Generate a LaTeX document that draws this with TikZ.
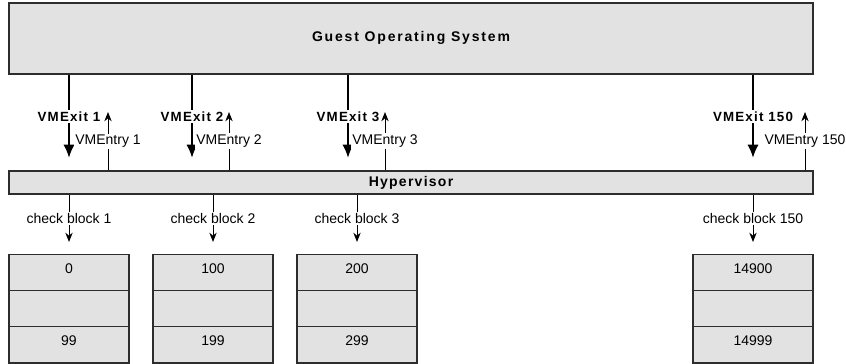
\documentclass[tikz,border=0pt]{standalone}
\usepackage{fontspec}
\setmainfont{Liberation Sans}
\newfontfamily\spacedsans[LetterSpace=9]{Liberation Sans}
\newfontfamily\widesans[LetterSpace=13]{Liberation Sans}
\usetikzlibrary{arrows.meta}
\definecolor{boxgray}{RGB}{226,226,226}
\definecolor{linegray}{RGB}{45,45,45}
\tikzset{>=latex}
\tikzset{
  layerbox/.style={draw=linegray, line width=1pt, fill=boxgray, inner sep=0pt,
    font=\spacedsans\bfseries\fontsize{10.5}{12}\selectfont},
  cellbox/.style={draw=linegray, line width=0.8pt, fill=boxgray, inner sep=0pt,
    minimum width=90pt, minimum height=27.25pt, text depth=6pt,
    font=\fontsize{10.5}{12}\selectfont},
  exitarrow/.style={line width=1.6pt, -{Latex[length=10pt,width=8.5pt]}},
  thinarrow/.style={line width=0.7pt, -{Stealth[length=7pt,width=5.5pt]}},
  exitlabel/.style={fill=white, inner sep=1pt,
    font=\spacedsans\bfseries\fontsize{10}{12}\selectfont},
  plainlabel/.style={fill=white, inner sep=1pt, font=\fontsize{10.5}{12}\selectfont}
}

\begin{document}
\begin{tikzpicture}[x=0.75pt, y=-0.75pt]
    \useasboundingbox (0,0) rectangle (846,364);

    \node [layerbox, minimum width=603pt, minimum height=53.25pt,
    text depth=3pt, font=\widesans\bfseries\fontsize{10.5}{12}\selectfont]
    (guest) at (411,38.5) {Guest Operating System};

    \node [layerbox, minimum width=603pt, minimum height=17.25pt]
    (hyper) at (411,182.5) {Hypervisor};

    % memory blocks
    \node [cellbox] (b1top) at (69,272.2) {0};
    \node [cellbox] (b1mid) at (69,308.5) {};
    \node [cellbox] (b1bot) at (69,344.8) {99};

    \node [cellbox] (b2top) at (213,272.2) {100};
    \node [cellbox] (b2mid) at (213,308.5) {};
    \node [cellbox] (b2bot) at (213,344.8) {199};

    \node [cellbox] (b3top) at (357,272.2) {200};
    \node [cellbox] (b3mid) at (357,308.5) {};
    \node [cellbox] (b3bot) at (357,344.8) {299};

    \node [cellbox] (b150top) at (753,272.2) {14900};
    \node [cellbox] (b150mid) at (753,308.5) {};
    \node [cellbox] (b150bot) at (753,344.8) {14999};

    % exits
    \coordinate (x1) at (69,158);
    \coordinate (x2) at (192,158);
    \coordinate (x3) at (348,158);
    \coordinate (x150) at (753,158);

    \draw [exitarrow] (guest.south -| x1) -- node [exitlabel] {VMExit 1} (x1);
    \draw [exitarrow] (guest.south -| x2) -- node [exitlabel] {VMExit 2} (x2);
    \draw [exitarrow] (guest.south -| x3) -- node [exitlabel] {VMExit 3} (x3);
    \draw [exitarrow] (guest.south -| x150) -- node [exitlabel] {VMExit 150} (x150);

    % entries
    \coordinate (e1) at (108,112);
    \coordinate (e2) at (229,112);
    \coordinate (e3) at (385,112);
    \coordinate (e150) at (805,112);

    \draw [thinarrow] (hyper.north -| e1) -- node [plainlabel] {VMEntry 1} (e1);
    \draw [thinarrow] (hyper.north -| e2) -- node [plainlabel] {VMEntry 2} (e2);
    \draw [thinarrow] (hyper.north -| e3) -- node [plainlabel] {VMEntry 3} (e3);
    \draw [thinarrow] (hyper.north -| e150) -- node [plainlabel] {VMEntry 150} (e150);

    % checks
    \coordinate (c1) at (69,242);
    \coordinate (c2) at (213,242);
    \coordinate (c3) at (357,242);
    \coordinate (c150) at (753,242);

    \draw [thinarrow] (hyper.south -| c1) -- node [plainlabel] {check block 1} (c1);
    \draw [thinarrow] (hyper.south -| c2) -- node [plainlabel] {check block 2} (c2);
    \draw [thinarrow] (hyper.south -| c3) -- node [plainlabel] {check block 3} (c3);
    \draw [thinarrow] (hyper.south -| c150) -- node [plainlabel] {check block 150} (c150);
  \end{tikzpicture}
\end{document}
